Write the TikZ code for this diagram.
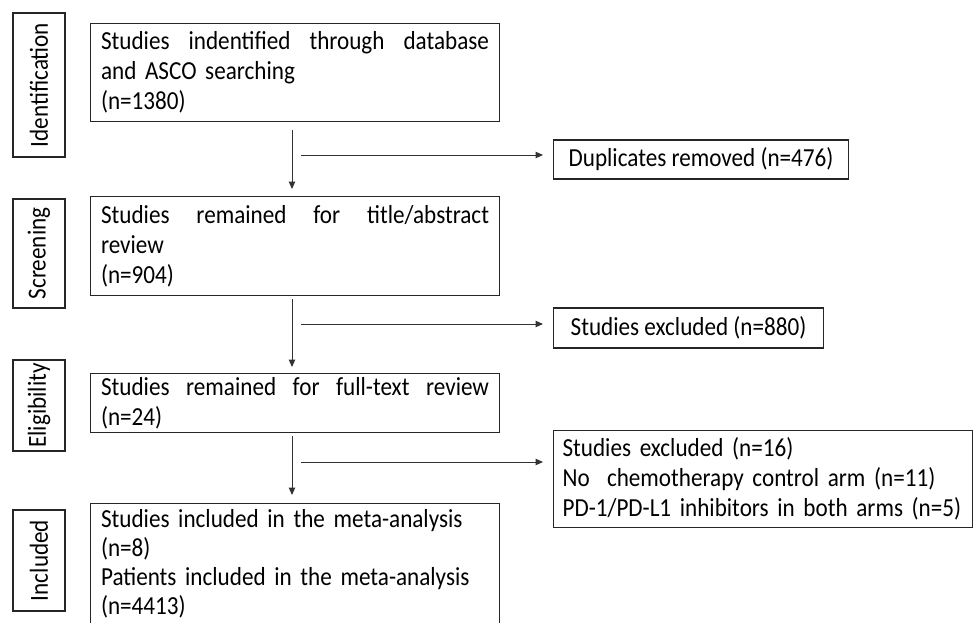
\documentclass[tikz,border=0pt]{standalone}
\usepackage{fontspec}
\setmainfont{Carlito}[FakeStretch=0.89]
\usetikzlibrary{arrows.meta,calc}
\begin{document}
\begin{tikzpicture}[x=1pt,y=-1pt,
  every node/.style={font=\fontsize{26}{29.8}\selectfont, text=black},
  box/.style={draw=black!85, line width=1.1pt, inner sep=0pt},
  mainbox/.style={box, anchor=north west, text width=388pt, inner xsep=10.5pt, align=left},
  sidebox/.style={box, rotate=90, minimum height=52pt, inner xsep=0pt},
  arr/.style={draw=black!80, line width=1pt, -{Triangle[length=7.5pt,width=6.5pt]}},
  ]
\useasboundingbox (0,0) rectangle (973,622);
\clip (0,0) rectangle (973,622);
% side labels
\node[sidebox, minimum width=144pt] (s1) at (39,85) {Identification};
\node[sidebox, minimum width=109pt] (s2) at (39,253.5) {Screening};
\node[sidebox, minimum width=91pt] (s3) at (39,405.5) {Eligibility};
\node[sidebox, minimum width=101pt] (s4) at (39,560.5) {Included};
% main boxes
\node[mainbox, minimum height=98pt] (b1) at (90,23)
  {Studies\hfill indentified\hfill through\hfill database\\ and ASCO searching\\ (n=1380)};
\node[mainbox, minimum height=99pt] (b2) at (90,196)
  {Studies\hfill remained\hfill for\hfill title/abstract\\ review\\ (n=904)};
\node[mainbox, minimum height=59pt] (b3) at (90,373)
  {Studies\hfill remained\hfill for\hfill full-text\hfill review\\ (n=24)};
\node[mainbox, inner ysep=6pt, font=\fontsize{26}{29}\selectfont] (b4) at (90,503)
  {Studies included in the meta-analysis\\ (n=8)\\ Patients included in the meta-analysis\\ (n=4413)};
% right boxes
\node[box, inner xsep=12pt, minimum width=295pt, minimum height=39pt, anchor=west] (d1) at (553,159.5)
  {Duplicates removed (n=476)};
\node[box, inner xsep=12pt, minimum width=270pt, minimum height=40pt, anchor=west] (d2) at (553,328)
  {Studies excluded (n=880)};
\node[box, anchor=north west, text width=401pt, inner xsep=9pt, align=left, minimum height=97pt] (d3) at (553,430)
  {Studies excluded (n=16)\\ No\ \ chemotherapy control arm (n=11)\\ PD-1/PD-L1 inhibitors in both arms (n=5)};
% vertical arrows
\coordinate (vx) at (292,0);
\draw[arr] ($(b1.south -| vx)+(0,8)$) -- ($(b2.north -| vx)+(0,-7)$);
\draw[arr] ($(b2.south -| vx)+(0,3)$) -- ($(b3.north -| vx)+(0,-6)$);
\draw[arr] ($(b3.south -| vx)+(0,3)$) -- ($(b4.north -| vx)+(0,-8)$);
% horizontal arrows
\coordinate (h1) at (301,155);
\coordinate (h2) at (301,324);
\coordinate (h3) at (301,462);
\draw[arr] (h1) -- ($(h1 -| d1.west)+(-10,0)$);
\draw[arr] (h2) -- ($(h2 -| d2.west)+(-10,0)$);
\draw[arr] (h3) -- ($(h3 -| d3.west)+(-10,0)$);
\end{tikzpicture}
\end{document}
